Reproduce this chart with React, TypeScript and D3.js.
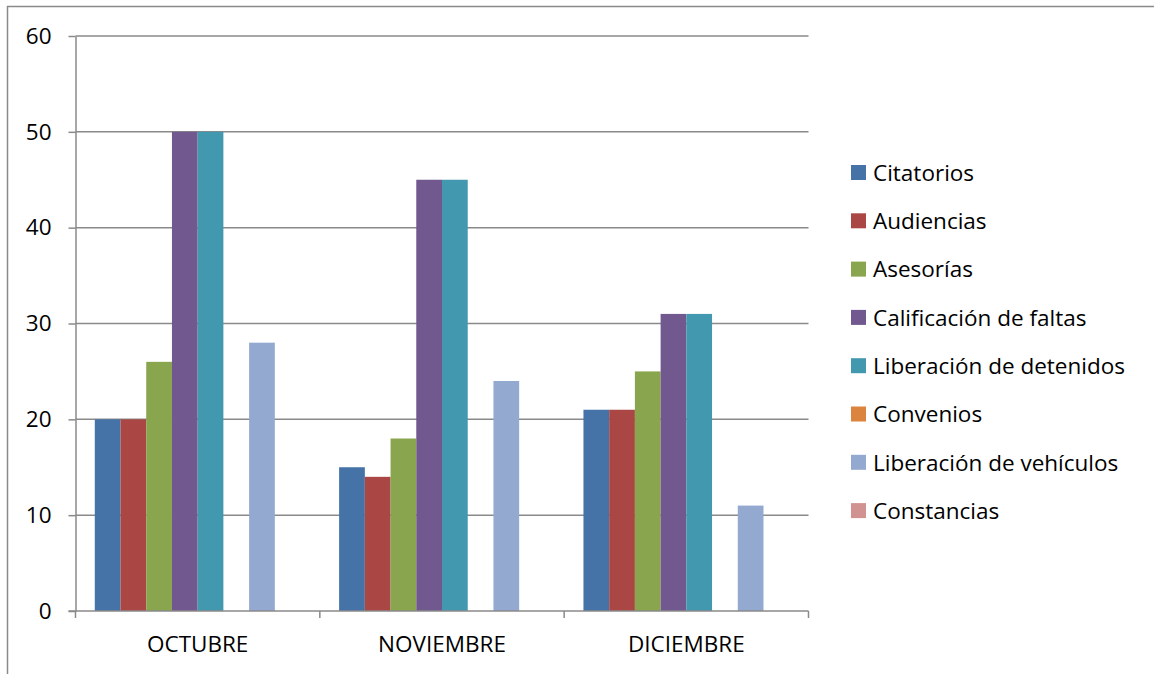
import React, { useEffect, useRef } from 'react';
import * as d3 from 'd3';

const months = ['OCTUBRE', 'NOVIEMBRE', 'DICIEMBRE'];
const seriesNames = [
  'Citatorios',
  'Audiencias',
  'Asesorías',
  'Calificación de faltas',
  'Liberación de detenidos',
  'Convenios',
  'Liberación de vehículos',
  'Constancias',
];
const seriesColors = ['#4572A7', '#AA4643', '#89A54E', '#71588F', '#4198AF', '#DB843D', '#93A9CF', '#D19392'];
// one row per series, one value per month
const citatorios = [20, 15, 21];
const audiencias = [20, 14, 21];
const asesorias = [26, 18, 25];
const calificacion = [50, 45, 31];
const liberacionDetenidos = [50, 45, 31];
const convenios = [0, 0, 0];
const liberacionVehiculos = [28, 24, 11];
const constancias = [0, 0, 0];
const yTicks = [0, 10, 20, 30, 40, 50, 60];

const allValues = [
  citatorios,
  audiencias,
  asesorias,
  calificacion,
  liberacionDetenidos,
  convenios,
  liberacionVehiculos,
  constancias,
];

const App: React.FC = () => {
  const ref = useRef<SVGSVGElement | null>(null);

  useEffect(() => {
    if (!ref.current) return;
    const svg = d3.select(ref.current);
    svg.selectAll('*').remove();

    const font = "'Open Sans', sans-serif";
    const gridColor = '#8a8a8a';
    const left = 75.5;
    const right = 808.5;
    const top = 36;
    const bottom = 611;

    const x = d3.scaleBand().domain(months).range([left, right]).paddingInner(0).paddingOuter(0);
    const y = d3.scaleLinear().domain([0, 60]).range([bottom, top]);
    const barW = x.bandwidth() / (seriesNames.length + 1.5);
    const x1 = d3
      .scaleBand()
      .domain(seriesNames)
      .range([barW * 0.75, barW * 0.75 + barW * seriesNames.length]);

    // outer frame
    svg.append('line').attr('x1', 7).attr('x2', 1154).attr('y1', 6.5).attr('y2', 6.5)
      .attr('stroke', gridColor).attr('stroke-width', 1.5);
    svg.append('line').attr('x1', 7.5).attr('x2', 7.5).attr('y1', 6).attr('y2', 674)
      .attr('stroke', gridColor).attr('stroke-width', 1.5);

    // gridlines
    svg.append('g').selectAll('line').data(yTicks.filter((t) => t > 0)).enter().append('line')
      .attr('x1', left).attr('x2', right)
      .attr('y1', (d) => y(d)).attr('y2', (d) => y(d))
      .attr('stroke', gridColor).attr('stroke-width', 1.5);

    // bars
    const groups = svg.append('g').selectAll('g').data(months).enter().append('g')
      .attr('transform', (m) => `translate(${x(m)},0)`);
    groups.selectAll('rect')
      .data((m, i) => seriesNames.map((s, k) => ({ s, k, v: allValues[k][i] })))
      .enter().append('rect')
      .attr('x', (d) => x1(d.s) as number)
      .attr('width', x1.bandwidth())
      .attr('y', (d) => y(d.v))
      .attr('height', (d) => bottom - y(d.v))
      .attr('fill', (d) => seriesColors[d.k]);

    // y axis
    const yAxis = d3.axisLeft(y).tickValues(yTicks).tickSize(7).tickSizeOuter(0).tickPadding(17);
    const ya = svg.append('g').attr('transform', `translate(${left},0)`).call(yAxis);
    ya.selectAll('path, line').attr('stroke', gridColor).attr('stroke-width', 1.5);
    ya.selectAll('text').attr('font-family', font).attr('font-size', 22.5).attr('fill', '#000');

    // x axis
    const xAxis = d3.axisBottom(x).tickSize(0).tickPadding(25).tickSizeOuter(0);
    const xa = svg.append('g').attr('transform', `translate(0,${bottom})`).call(xAxis);
    xa.select('.domain').attr('stroke', gridColor).attr('stroke-width', 1.5)
      .attr('d', `M${left - 7},0H${right}`);
    xa.selectAll('text').attr('font-family', font).attr('font-size', 22.5).attr('fill', '#000');
    xa.selectAll('.sep').data([left, ...months.map((m) => (x(m) as number) + x.bandwidth())])
      .enter().append('line').attr('class', 'sep')
      .attr('x1', (d) => d).attr('x2', (d) => d).attr('y1', 0).attr('y2', 7)
      .attr('stroke', gridColor).attr('stroke-width', 1.5);

    // legend
    const legend = svg.append('g').attr('transform', 'translate(851,173)');
    const row = legend.selectAll('g').data(seriesNames).enter().append('g')
      .attr('transform', (d, i) => `translate(0,${i * 48.3})`);
    row.append('rect').attr('x', 0).attr('y', -8).attr('width', 15).attr('height', 15)
      .attr('fill', (d, i) => seriesColors[i]);
    row.append('text').attr('x', 22).attr('y', 0).attr('dy', '0.35em')
      .attr('font-family', font).attr('font-size', 22.5).attr('fill', '#000')
      .text((d) => d);
  }, []);

  return (
    <svg
      ref={ref}
      width={1154}
      height={674}
      style={{ position: 'absolute', left: 0, top: 0, background: '#fff' }}
    ></svg>
  );
};

export default App;
